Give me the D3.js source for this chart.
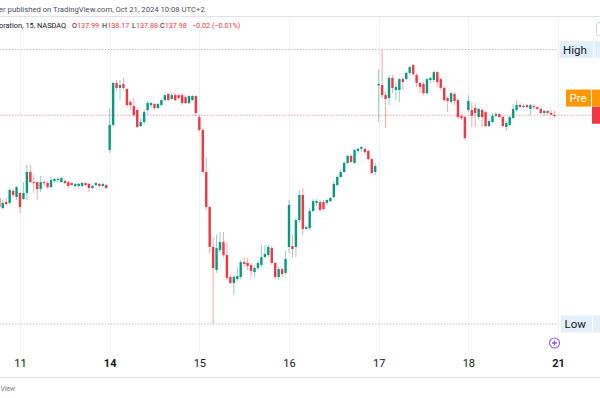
<!DOCTYPE html>
<html>
<head>
<meta charset="utf-8">
<script src="https://cdn.jsdelivr.net/npm/d3@7"></script>
<style>
  html, body { margin: 0; padding: 0; background: #fff; }
  svg { display: block; font-family: Roboto, "Open Sans", sans-serif; }
</style>
</head>
<body>
<svg id="chart" width="600" height="398"></svg>
<script>
// NVDA, 15 min candles, tail of Oct 10 through Oct 18 2024
const dayLabels = ['10', '11', '14', '15', '16', '17', '18', '21'];
const boldDays = ['14', '21'];
const barsPerDay = 26;
const firstBar = 20; // first visible bar of Oct 10

const open = [
    // Oct 10
    134.32, 133.87, 134.14, 134.10, 134.63, 134.36,
    // Oct 11
    134.54, 134.27, 134.54, 135.47, 135.02, 135.02, 134.71, 135.02, 134.98, 134.80, 135.07, 135.11, 135.02,
    135.07, 135.02, 134.98, 134.85, 134.85, 134.85, 134.98, 134.94, 134.76, 134.89, 134.94, 134.85, 134.89,
    // Oct 14
    136.44, 137.55, 139.41, 139.19, 139.36, 139.14, 138.57, 138.39, 138.21, 137.50, 137.68, 138.21, 138.43,
    138.48, 138.30, 138.43, 138.65, 138.92, 138.70, 138.87, 138.87, 138.87, 138.78, 138.52, 138.65, 138.83,
    // Oct 15
    137.90, 137.33, 135.47, 133.92, 132.15, 131.13, 132.01, 132.37, 131.79, 130.82, 130.55, 130.73, 130.82,
    131.48, 131.44, 131.35, 131.04, 131.22, 131.35, 131.70, 131.79, 132.10, 131.44, 130.82, 131.17, 131.00,
    // Oct 16
    132.15, 132.19, 132.15, 133.34, 134.45, 132.95, 132.99, 133.74, 134.10, 134.14, 134.14, 134.10, 134.18,
    134.36, 134.89, 135.25, 135.47, 135.87, 136.18, 135.87, 136.40, 136.49, 136.49, 136.40, 136.04, 135.47,
    // Oct 17
    139.30, 139.32, 138.87, 138.74, 139.63, 139.10, 139.10, 139.58, 139.58, 139.85, 140.20, 139.76, 139.41,
    139.36, 138.96, 139.54, 139.54, 139.89, 139.58, 139.19, 138.74, 138.57, 138.92, 138.65, 137.95, 137.90,
    // Oct 18
    138.21, 138.21, 138.30, 137.90, 138.21, 138.12, 137.50, 137.68, 137.95, 138.03, 137.90, 137.46, 137.55,
    137.86, 138.21, 138.43, 138.34, 138.43, 138.26, 138.39, 138.34, 138.26, 138.08, 138.17, 138.08, 137.99
];
const high = [
    134.36, 134.23, 134.32, 134.76, 134.71, 134.85,
    134.58, 135.02, 135.78, 135.78, 135.33, 135.02, 135.29, 135.11, 135.07, 135.25, 135.20, 135.25, 135.25,
    135.16, 135.07, 135.02, 134.98, 134.98, 135.02, 135.02, 134.98, 134.89, 135.02, 134.98, 134.98, 134.94,
    138.30, 139.45, 139.54, 139.54, 139.63, 139.19, 138.65, 138.74, 138.30, 137.86, 138.21, 138.61, 138.57,
    138.52, 138.52, 138.70, 138.92, 138.96, 138.96, 138.96, 138.92, 138.96, 138.87, 138.87, 138.87, 138.87,
    137.99, 137.42, 136.13, 133.96, 132.59, 132.68, 132.81, 132.81, 132.37, 130.91, 130.91, 131.26, 131.57,
    131.70, 131.66, 131.44, 131.31, 131.53, 132.24, 132.24, 132.24, 132.19, 131.48, 131.26, 131.26, 131.97,
    134.23, 132.68, 133.47, 134.67, 134.76, 133.08, 133.87, 134.27, 134.27, 134.23, 134.23, 134.27, 134.36,
    135.07, 135.33, 135.56, 135.95, 136.22, 136.26, 136.49, 136.53, 136.62, 136.53, 136.44, 136.09, 135.87,
    140.03, 140.89, 139.01, 139.76, 139.76, 139.41, 139.63, 139.67, 139.94, 140.16, 140.25, 139.85, 139.45,
    139.45, 139.63, 139.67, 139.94, 139.94, 139.63, 139.27, 138.79, 139.01, 139.01, 138.74, 138.03, 137.95,
    138.87, 138.57, 138.52, 138.30, 138.30, 138.17, 137.81, 138.08, 138.12, 138.08, 137.95, 137.72, 137.95,
    138.48, 138.65, 138.52, 138.48, 138.48, 138.48, 138.48, 138.39, 138.30, 138.21, 138.21, 138.21, 138.17
];
const low = [
    133.56, 133.83, 134.01, 134.01, 134.36, 134.23,
    133.65, 134.23, 134.23, 134.98, 134.54, 134.23, 134.58, 134.85, 134.71, 134.76, 134.98, 135.02, 134.98,
    134.94, 134.76, 134.85, 134.76, 134.80, 134.80, 134.85, 134.58, 134.71, 134.85, 134.80, 134.80, 134.71,
    136.31, 137.50, 139.10, 138.65, 139.10, 138.34, 138.21, 137.90, 137.42, 137.46, 137.59, 137.99, 138.30,
    138.21, 138.26, 138.39, 138.61, 138.61, 138.65, 138.61, 138.65, 138.43, 138.48, 138.48, 138.61, 137.95,
    137.24, 135.42, 133.79, 131.88, 128.74, 131.00, 131.93, 131.70, 130.69, 130.51, 130.02, 130.64, 130.73,
    131.26, 131.13, 130.82, 130.82, 131.13, 131.26, 131.66, 131.70, 131.35, 130.73, 130.69, 130.82, 130.91,
    131.88, 131.66, 131.70, 133.21, 132.68, 132.90, 132.90, 133.70, 133.96, 133.70, 133.74, 134.01, 134.14,
    134.32, 134.85, 135.20, 135.42, 135.82, 135.87, 135.82, 136.31, 136.35, 136.26, 136.00, 135.38, 135.33,
    137.68, 138.74, 137.42, 138.43, 138.96, 138.65, 138.57, 139.10, 139.54, 139.76, 139.72, 139.23, 138.96,
    138.87, 138.87, 139.41, 139.45, 139.23, 139.10, 138.57, 138.12, 138.48, 138.43, 137.81, 137.77, 136.88,
    138.12, 137.46, 137.46, 137.81, 137.46, 137.46, 137.46, 137.64, 137.86, 137.86, 137.46, 137.28, 137.50,
    137.81, 138.12, 138.30, 138.30, 138.30, 137.99, 138.26, 138.21, 138.03, 137.95, 137.99, 137.99, 137.88
];
const close = [
    133.92, 134.10, 134.05, 134.67, 134.45, 134.80,
    133.92, 134.54, 135.47, 135.02, 134.98, 134.71, 135.02, 134.98, 134.80, 135.11, 135.16, 135.16, 135.20,
    134.98, 134.85, 134.89, 134.94, 134.94, 134.98, 134.89, 134.76, 134.85, 134.98, 134.85, 134.94, 134.76,
    137.55, 139.41, 139.19, 139.32, 139.19, 138.43, 138.43, 137.99, 137.46, 137.68, 138.12, 138.52, 138.52,
    138.30, 138.48, 138.65, 138.87, 138.65, 138.87, 138.65, 138.74, 138.52, 138.52, 138.83, 138.83, 138.08,
    137.33, 135.47, 133.92, 132.15, 131.22, 132.10, 132.37, 131.79, 130.78, 130.55, 130.82, 130.86, 131.48,
    131.40, 131.31, 131.09, 131.22, 131.44, 131.70, 131.84, 132.15, 131.44, 130.82, 131.17, 130.95, 131.62,
    134.01, 132.06, 133.34, 134.45, 132.95, 133.03, 133.74, 134.18, 134.18, 133.79, 133.83, 134.23, 134.32,
    134.94, 135.25, 135.47, 135.87, 136.18, 135.91, 136.44, 136.49, 136.57, 136.35, 136.04, 135.42, 135.73,
    139.36, 138.87, 138.70, 139.63, 139.19, 139.23, 139.58, 139.45, 139.85, 140.11, 139.80, 139.41, 139.23,
    138.96, 139.58, 139.63, 139.89, 139.45, 139.19, 138.65, 138.61, 138.96, 138.61, 137.90, 137.86, 136.97,
    138.61, 137.95, 138.08, 138.26, 137.90, 137.50, 137.72, 137.95, 138.03, 137.90, 137.50, 137.64, 137.90,
    138.26, 138.43, 138.34, 138.39, 138.34, 138.43, 138.34, 138.26, 138.08, 138.17, 138.08, 138.00, 137.98
];

const legendLetters = ['O', 'H', 'L', 'C'];
const legendValues = ['137.99', '138.17', '137.88', '137.98'];
const legendChange = '\u22120.02 (\u22120.01%)';
const rangeHigh = 140.89;
const rangeLow = 128.74;
const lastPrice = 137.98;
const prePrice = 138.74;

const upColor = '#089981';
const downColor = '#f23645';
const textColor = '#131722';

const svg = d3.select('#chart');

// Scales: bar index -> x, price -> y
const x = d3.scaleLinear()
    .domain([barsPerDay, barsPerDay * 7])
    .range([20, 558]);
const y = d3.scaleLinear()
    .domain([rangeLow, rangeHigh])
    .range([324, 49.5]);

const plotTop = 16.5;
const plotBottom = 352;
const plotRight = 558;

// Pane borders
svg.append('line')
    .attr('x1', 0).attr('x2', 600)
    .attr('y1', plotTop).attr('y2', plotTop)
    .attr('stroke', '#e0e3eb');
svg.append('line')
    .attr('x1', 0).attr('x2', 600)
    .attr('y1', 377.5).attr('y2', 377.5)
    .attr('stroke', '#e0e3eb');

// Vertical grid at day starts
const dayTicks = dayLabels.map((d, i) => i * barsPerDay).slice(1);
svg.append('g')
    .selectAll('line')
    .data(dayTicks)
    .join('line')
    .attr('x1', d => Math.round(x(d)) + 0.5)
    .attr('x2', d => Math.round(x(d)) + 0.5)
    .attr('y1', plotTop)
    .attr('y2', plotBottom)
    .attr('stroke', '#f0f2f5');

// High / low range lines
[rangeHigh, rangeLow].forEach(p => {
    svg.append('line')
        .attr('x1', 0).attr('x2', plotRight)
        .attr('y1', y(p)).attr('y2', y(p))
        .attr('stroke', '#b2b5be')
        .attr('stroke-width', 0.8)
        .attr('stroke-dasharray', '1.5,1.5');
});

// Last price line
svg.append('line')
    .attr('x1', 0).attr('x2', 592)
    .attr('y1', y(lastPrice)).attr('y2', y(lastPrice))
    .attr('stroke', downColor)
    .attr('stroke-opacity', 0.6)
    .attr('stroke-width', 0.8)
    .attr('stroke-dasharray', '1.5,1.5');

// Candles
const bars = open.map((o, j) => ({
    i: firstBar + j, o: o, h: high[j], l: low[j], c: close[j]
}));
const bodyW = 2.4;

const candle = svg.append('g')
    .selectAll('g')
    .data(bars)
    .join('g');

candle.append('line')
    .attr('x1', d => x(d.i))
    .attr('x2', d => x(d.i))
    .attr('y1', d => y(d.h))
    .attr('y2', d => y(d.l))
    .attr('stroke', d => d.c >= d.o ? upColor : downColor)
    .attr('stroke-opacity', 0.45)
    .attr('stroke-width', 1);

candle.append('rect')
    .attr('x', d => x(d.i) - bodyW / 2)
    .attr('width', bodyW)
    .attr('y', d => y(Math.max(d.o, d.c)))
    .attr('height', d => Math.max(1, Math.abs(y(d.o) - y(d.c))))
    .attr('fill', d => d.c >= d.o ? upColor : downColor);

// Time axis
const xAxis = d3.axisBottom(x)
    .tickValues(dayTicks)
    .tickFormat(v => dayLabels[v / barsPerDay])
    .tickSize(0)
    .tickPadding(0);
const axisG = svg.append('g')
    .attr('transform', `translate(0,${plotBottom})`)
    .call(xAxis);
axisG.select('.domain').remove();
axisG.selectAll('text')
    .attr('y', 15)
    .attr('dy', 0)
    .style('font-family', 'Roboto, sans-serif')
    .style('font-size', '11px')
    .style('font-weight', d => boldDays.includes(dayLabels[d / barsPerDay]) ? 'bold' : 'normal')
    .style('fill', textColor);

// Header
svg.append('text')
    .attr('x', -1)
    .attr('y', 11.7)
    .style('font-size', '7.7px')
    .style('fill', '#4a4e5a')
    .text('er published on TradingView.com, Oct 21, 2024 10:08 UTC+2');

svg.append('text')
    .attr('x', -1)
    .attr('y', 28.3)
    .style('font-size', '7.4px')
    .style('fill', textColor)
    .text('oration, 15, NASDAQ');

const legendX = [72, 102, 132, 160];
legendLetters.forEach((letter, k) => {
    const t = svg.append('text')
        .attr('x', legendX[k])
        .attr('y', 28.3)
        .style('font-size', '7.2px');
    t.append('tspan').style('fill', textColor).text(letter);
    t.append('tspan').style('fill', downColor).text(legendValues[k]);
});
svg.append('text')
    .attr('x', 192)
    .attr('y', 28.3)
    .style('font-size', '7.2px')
    .style('fill', downColor)
    .text(legendChange);

// Top-right button stub
svg.append('rect')
    .attr('x', 596.5).attr('y', 22.5)
    .attr('width', 12).attr('height', 13)
    .attr('rx', 2)
    .attr('fill', '#fff')
    .attr('stroke', '#d1d4dc');

// Price scale labels
function scaleLabel(x0, w, cy, fill, label, color) {
    svg.append('rect')
        .attr('x', x0).attr('y', cy - 8.5)
        .attr('width', w).attr('height', 17)
        .attr('fill', fill);
    if (label) {
        svg.append('text')
            .attr('x', x0 + 3.5)
            .attr('y', cy + 4)
            .style('font-size', '11.5px')
            .style('fill', color)
            .text(label);
    }
}
scaleLabel(559.5, 33.5, y(rangeHigh), '#e3effd', 'High', textColor);
scaleLabel(594, 10, y(rangeHigh), '#e3effd', null);
scaleLabel(566, 25, y(prePrice), '#ff9800', 'Pre', '#fff');
scaleLabel(592, 10, y(prePrice), '#ff9800', null);
scaleLabel(592, 10, y(lastPrice), downColor, null);
scaleLabel(561, 31, y(rangeLow), '#e3effd', 'Low', textColor);
scaleLabel(593, 10, y(rangeLow), '#e3effd', null);

// Purple add-marker icon
const icon = svg.append('g').attr('transform', 'translate(554.5,343)');
icon.append('circle')
    .attr('r', 5)
    .attr('fill', '#fff')
    .attr('stroke', '#8b5cf6')
    .attr('stroke-width', 1.1);
icon.append('path')
    .attr('d', 'M -2.5 0 H 2.5 M 0 -2.5 V 2.5')
    .attr('stroke', '#8b5cf6')
    .attr('stroke-width', 1.3);

// Footer (only the tail of the logo text is in frame)
svg.append('text')
    .attr('x', 0.5)
    .attr('y', 391)
    .style('font-size', '7px')
    .style('font-style', 'italic')
    .style('fill', '#787b86')
    .text('View');
</script>
</body>
</html>
